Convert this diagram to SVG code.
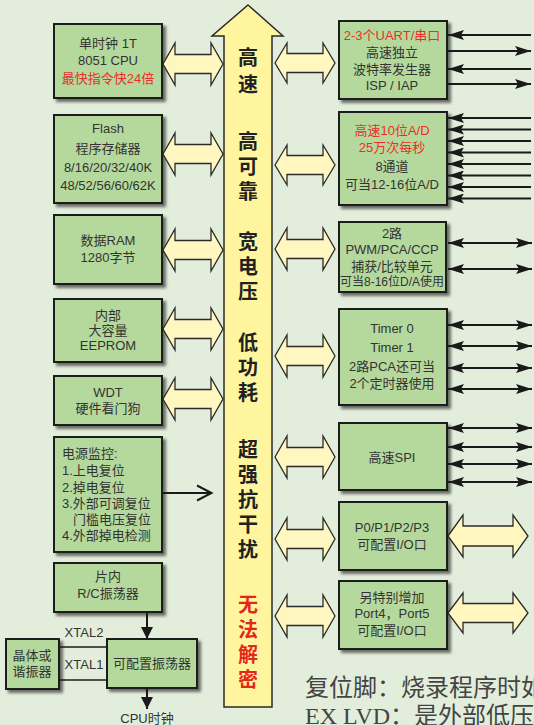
<svg xmlns="http://www.w3.org/2000/svg" width="534" height="725" viewBox="0 0 534 725">
<defs>
<filter id="sh" x="-10%" y="-10%" width="130%" height="130%"><feDropShadow dx="3" dy="3" stdDeviation="1.6" flood-color="#000" flood-opacity="0.55"/></filter>
<marker id="ah" viewBox="0 0 16 10" refX="16" refY="5" markerWidth="16" markerHeight="10" markerUnits="userSpaceOnUse" orient="auto-start-reverse"><path d="M0,0 L16,5 L0,10 L3,5 Z" fill="#1a1a1a"/></marker>
<marker id="ahd" viewBox="0 0 12 12" refX="12" refY="6" markerWidth="12" markerHeight="12" markerUnits="userSpaceOnUse" orient="auto"><path d="M0,0 L12,6 L0,12 Z" fill="#1a1a1a"/></marker>
</defs>
<style>
.bx{fill:#b5d99c;stroke:#1e1e1e;stroke-width:2;filter:url(#sh)}
.t{font-family:"Liberation Sans","Noto Sans CJK SC",sans-serif;font-size:13px;fill:#333;text-anchor:middle;dominant-baseline:central}
.r{fill:#e8302a}
.sm{font-size:12px}
.bus{font-family:"Noto Sans CJK SC",sans-serif;font-weight:bold;font-size:20px;fill:#222;text-anchor:middle;dominant-baseline:central}
.br{fill:#e4261c}
.ya{fill:#fff7bf;stroke:#2a2a2a;stroke-width:1.3}
.ln{stroke:#1a1a1a;stroke-width:2;fill:none}
.ft{font-family:"Liberation Serif","Noto Sans CJK SC",serif;font-size:24px;fill:#444}
</style>
<rect width="534" height="725" fill="#e2eedb"/>

<g id="bus">
<path d="M248,5 L283,36 L272,36 L272,707 L224,707 L224,36 L212,36 Z" fill="#fff59e" stroke="#2a2a2a" stroke-width="1.5"/>
<text class="bus" x="248" y="56">高</text>
<text class="bus" x="248" y="83">速</text>
<text class="bus" x="248" y="140">高</text>
<text class="bus" x="248" y="165">可</text>
<text class="bus" x="248" y="190">靠</text>
<text class="bus" x="248" y="240">宽</text>
<text class="bus" x="248" y="265">电</text>
<text class="bus" x="248" y="290">压</text>
<text class="bus" x="248" y="341">低</text>
<text class="bus" x="248" y="366">功</text>
<text class="bus" x="248" y="391">耗</text>
<text class="bus" x="248" y="448">超</text>
<text class="bus" x="248" y="473">强</text>
<text class="bus" x="248" y="498">抗</text>
<text class="bus" x="248" y="523">干</text>
<text class="bus" x="248" y="548">扰</text>
<text class="bus br" x="248" y="603">无</text>
<text class="bus br" x="248" y="628">法</text>
<text class="bus br" x="248" y="653">解</text>
<text class="bus br" x="248" y="678">密</text>
</g>

<g id="cpu"><rect class="bx" x="54" y="24" width="108" height="74"/>
<text class="t" x="108" y="43">单时钟 1T</text><text class="t" x="108" y="60">8051  CPU</text><text class="t r" x="108" y="78">最快指令快24倍</text></g>

<g id="flash"><rect class="bx" x="54" y="115" width="108" height="88"/>
<text class="t" x="108" y="128">Flash</text><text class="t" x="108" y="148">程序存储器</text><text class="t" x="108" y="167">8/16/20/32/40K</text><text class="t" x="108" y="185">48/52/56/60/62K</text></g>

<g id="ram"><rect class="bx" x="54" y="215" width="108" height="69"/>
<text class="t" x="108" y="240">数据RAM</text><text class="t" x="108" y="257">1280字节</text></g>

<g id="eeprom"><rect class="bx" x="54" y="299" width="108" height="63"/>
<text class="t" x="108" y="315">内部</text><text class="t" x="108" y="330">大容量</text><text class="t" x="108" y="345">EEPROM</text></g>

<g id="wdt"><rect class="bx" x="54" y="376" width="108" height="49"/>
<text class="t" x="108" y="392">WDT</text><text class="t" x="108" y="408">硬件看门狗</text></g>

<g id="power"><rect class="bx" x="54" y="437" width="108" height="115"/>
<text class="t" x="62" y="453" style="text-anchor:start">电源监控:</text>
<text class="t" x="62" y="470" style="text-anchor:start">1.上电复位</text>
<text class="t" x="62" y="487" style="text-anchor:start">2.掉电复位</text>
<text class="t" x="62" y="503" style="text-anchor:start">3.外部可调复位</text>
<text class="t" x="73" y="519" style="text-anchor:start">门槛电压复位</text>
<text class="t" x="62" y="535" style="text-anchor:start">4.外部掉电检测</text></g>

<g id="rc"><rect class="bx" x="54" y="563" width="108" height="49"/>
<text class="t" x="108" y="576">片内</text><text class="t" x="108" y="593">R/C振荡器</text></g>

<g id="crystal"><rect class="bx" x="6" y="639" width="53" height="50"/>
<text class="t" x="32" y="655">晶体或</text><text class="t" x="32" y="671">谐振器</text></g>

<g id="osc"><rect class="bx" x="107" y="639" width="90" height="49"/>
<text class="t" x="152" y="663">可配置振荡器</text></g>

<g id="uart"><rect class="bx" x="339" y="21" width="108" height="78"/>
<text class="t r" x="392" y="35">2-3个UART/串口</text><text class="t" x="392" y="52">高速独立</text><text class="t" x="392" y="69">波特率发生器</text><text class="t" x="392" y="85">ISP / IAP</text></g>

<g id="adc"><rect class="bx" x="339" y="112" width="108" height="93"/>
<text class="t r" x="392" y="130">高速10位A/D</text><text class="t r" x="392" y="147">25万次每秒</text><text class="t" x="392" y="166">8通道</text><text class="t" x="392" y="184">可当12-16位A/D</text></g>

<g id="pwm"><rect class="bx" x="339" y="222" width="107" height="70"/>
<text class="t" x="392" y="233">2路</text><text class="t" x="392" y="249">PWM/PCA/CCP</text><text class="t" x="392" y="266">捕获/比较单元</text><text class="t sm" x="392" y="282">可当8-16位D/A使用</text></g>

<g id="timer"><rect class="bx" x="339" y="309" width="108" height="96"/>
<text class="t" x="392" y="328">Timer 0</text><text class="t" x="392" y="347">Timer 1</text><text class="t" x="392" y="366">2路PCA还可当</text><text class="t" x="392" y="383">2个定时器使用</text></g>

<g id="spi"><rect class="bx" x="339" y="423" width="108" height="67"/>
<text class="t" x="392" y="457">高速SPI</text></g>

<g id="p03"><rect class="bx" x="339" y="502" width="108" height="68"/>
<text class="t" x="392" y="527">P0/P1/P2/P3</text><text class="t" x="392" y="544">可配置I/O口</text></g>

<g id="p45"><rect class="bx" x="339" y="581" width="108" height="68"/>
<text class="t" x="392" y="597">另特别增加</text><text class="t" x="392" y="613">Port4，Port5</text><text class="t" x="392" y="630">可配置I/O口</text></g>

<g id="connectors">
<path class="ya" d="M163,64 L175,43 L175,54.5 L211,54.5 L211,43 L223,64 L211,85 L211,73.5 L175,73.5 L175,85 Z"/>
<path class="ya" d="M163,154 L175,133 L175,144.5 L211,144.5 L211,133 L223,154 L211,175 L211,163.5 L175,163.5 L175,175 Z"/>
<path class="ya" d="M163,250 L175,229 L175,240.5 L211,240.5 L211,229 L223,250 L211,271 L211,259.5 L175,259.5 L175,271 Z"/>
<path class="ya" d="M163,329 L175,308 L175,319.5 L211,319.5 L211,308 L223,329 L211,350 L211,338.5 L175,338.5 L175,350 Z"/>
<path class="ya" d="M163,399 L175,378 L175,389.5 L211,389.5 L211,378 L223,399 L211,420 L211,408.5 L175,408.5 L175,420 Z"/>

<path class="ya" d="M275,63 L287,43 L287,53.5 L323,53.5 L323,43 L335,63 L323,83 L323,72.5 L287,72.5 L287,83 Z"/>
<path class="ya" d="M275,165 L287,145 L287,155.5 L323,155.5 L323,145 L335,165 L323,185 L323,174.5 L287,174.5 L287,185 Z"/>
<path class="ya" d="M275,249 L287,228 L287,239.5 L323,239.5 L323,228 L335,249 L323,270 L323,258.5 L287,258.5 L287,270 Z"/>
<path class="ya" d="M275,356 L287,335 L287,346.5 L323,346.5 L323,335 L335,356 L323,377 L323,365.5 L287,365.5 L287,377 Z"/>
<path class="ya" d="M275,457 L287,436 L287,447.5 L323,447.5 L323,436 L335,457 L323,478 L323,466.5 L287,466.5 L287,478 Z"/>
<path class="ya" d="M275,539 L287,518 L287,529.5 L323,529.5 L323,518 L335,539 L323,560 L323,548.5 L287,548.5 L287,560 Z"/>
<path class="ya" d="M275,616 L287,595 L287,606.5 L323,606.5 L323,595 L335,616 L323,637 L323,625.5 L287,625.5 L287,637 Z"/>

<path class="ya" d="M448,536 L463,515 L463,526 L513,526 L513,515 L528,536 L513,557 L513,546 L463,546 L463,557 Z"/>
<path class="ya" d="M448,613 L463,593 L463,603.5 L513,603.5 L513,593 L528,613 L513,633 L513,622.5 L463,622.5 L463,633 Z"/>

<line class="ln" x1="531" y1="35" x2="448" y2="35" marker-end="url(#ah)"/>
<line class="ln" x1="448" y1="51" x2="531" y2="51" marker-end="url(#ah)"/>
<line class="ln" x1="531" y1="69" x2="448" y2="69" marker-end="url(#ah)"/>
<line class="ln" x1="448" y1="84" x2="531" y2="84" marker-end="url(#ah)"/>

<line class="ln" x1="531" y1="118" x2="448" y2="118" marker-end="url(#ah)"/>
<line class="ln" x1="531" y1="129.5" x2="448" y2="129.5" marker-end="url(#ah)"/>
<line class="ln" x1="531" y1="141" x2="448" y2="141" marker-end="url(#ah)"/>
<line class="ln" x1="531" y1="152.5" x2="448" y2="152.5" marker-end="url(#ah)"/>
<line class="ln" x1="531" y1="164" x2="448" y2="164" marker-end="url(#ah)"/>
<line class="ln" x1="531" y1="175.5" x2="448" y2="175.5" marker-end="url(#ah)"/>
<line class="ln" x1="531" y1="187" x2="448" y2="187" marker-end="url(#ah)"/>
<line class="ln" x1="531" y1="198.5" x2="448" y2="198.5" marker-end="url(#ah)"/>

<line class="ln" x1="448" y1="243" x2="532" y2="243" marker-start="url(#ah)" marker-end="url(#ah)"/>
<line class="ln" x1="448" y1="269" x2="532" y2="269" marker-start="url(#ah)" marker-end="url(#ah)"/>

<line class="ln" x1="448" y1="325" x2="532" y2="325" marker-start="url(#ah)" marker-end="url(#ah)"/>
<line class="ln" x1="448" y1="346" x2="532" y2="346" marker-start="url(#ah)" marker-end="url(#ah)"/>
<line class="ln" x1="448" y1="368" x2="532" y2="368" marker-start="url(#ah)" marker-end="url(#ah)"/>
<line class="ln" x1="448" y1="389" x2="532" y2="389" marker-start="url(#ah)" marker-end="url(#ah)"/>

<line class="ln" x1="448" y1="428" x2="532" y2="428" marker-start="url(#ah)" marker-end="url(#ah)"/>
<line class="ln" x1="448" y1="447" x2="532" y2="447" marker-start="url(#ah)" marker-end="url(#ah)"/>
<line class="ln" x1="448" y1="464" x2="532" y2="464" marker-start="url(#ah)" marker-end="url(#ah)"/>
<line class="ln" x1="448" y1="482" x2="532" y2="482" marker-start="url(#ah)" marker-end="url(#ah)"/>

<line class="ln" x1="163" y1="493" x2="211" y2="493"/>
<polyline class="ln" points="197,485.5 211.5,493 197,500.5"/>

<line class="ln" x1="147" y1="613" x2="147" y2="639" marker-end="url(#ahd)"/>
<line class="ln" x1="147" y1="689" x2="147" y2="709" marker-end="url(#ahd)"/>
<line stroke="#1a1a1a" stroke-width="1.5" x1="59" y1="647" x2="107" y2="647"/>
<line stroke="#1a1a1a" stroke-width="1.5" x1="59" y1="680" x2="107" y2="680"/>
<text class="t" x="84" y="632">XTAL2</text>
<text class="t" x="84" y="664">XTAL1</text>
<text class="t" x="147" y="718">CPU时钟</text>
</g>

<text class="ft" x="305" y="696">复位脚：烧录程序时如</text>
<text class="ft" x="305" y="724">EX LVD：是外部低压</text>
</svg>
